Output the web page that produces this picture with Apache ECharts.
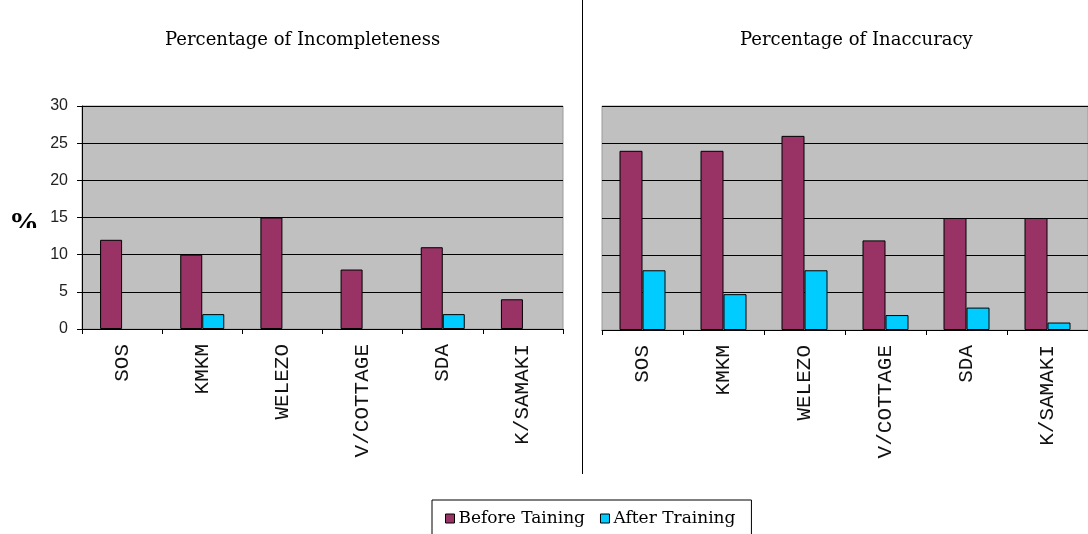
<!DOCTYPE html>
<html>
<head>
<meta charset="utf-8">
<title>Incompleteness and Inaccuracy before and after training</title>
<script src="https://cdn.jsdelivr.net/npm/echarts@6/dist/echarts.min.js"></script>
<style>
  html, body { margin: 0; padding: 0; background: #fff; }
  #chart { width: 1088px; height: 534px; }
</style>
</head>
<body>
<div id="chart"></div>
<script>
// Sites (x-axis categories), shared by both panels
const sites = ['SOS', 'KMKM', 'WELEZO', 'V/COTTAGE', 'SDA', 'K/SAMAKI'];

// Percentage of incompleteness
const incompleteBefore = [12, 10, 15, 8, 11, 4];
const incompleteAfter  = [0, 2, 0, 0, 2, 0];

// Percentage of inaccuracy
const inaccurateBefore = [24, 24, 26, 12, 15, 15];
const inaccurateAfter  = [8, 4.8, 8, 2, 3, 1];

// Value axis ticks
const yMin = 0, yMax = 30, yStep = 5;

const seriesNames = ['Before Taining', 'After Training'];
const panelTitles = ['Percentage of Incompleteness', 'Percentage of Inaccuracy'];

const BEFORE = '#993366';
const AFTER = '#00CCFF';

const chart = echarts.init(document.getElementById('chart'), null, { renderer: 'canvas' });

function xAxisFor(gridIndex) {
  return {
    type: 'category',
    gridIndex: gridIndex,
    data: sites,
    axisLine: { show: true, lineStyle: { color: '#000', width: 1 } },
    axisTick: { show: true, length: 5, lineStyle: { color: '#000' } },
    axisLabel: {
      rotate: 90,
      margin: 15,
      interval: 0,
      fontFamily: 'Liberation Mono',
      fontSize: 21,
      color: '#111'
    }
  };
}

function yAxisFor(gridIndex, withLabels) {
  return {
    type: 'value',
    gridIndex: gridIndex,
    min: yMin,
    max: yMax,
    interval: yStep,
    axisLine: { show: withLabels, lineStyle: { color: '#000', width: 1 } },
    axisTick: { show: withLabels, length: 5, lineStyle: { color: '#000' } },
    axisLabel: {
      show: withLabels,
      margin: 14,
      fontFamily: 'Liberation Sans',
      fontSize: 16,
      color: '#222'
    },
    splitLine: { show: true, lineStyle: { color: '#000', width: 1 } }
  };
}

// zero-height bars carry no outline
function toItems(values) {
  return values.map(v => (v === 0 ? { value: v, itemStyle: { borderWidth: 0 } } : v));
}

function barSeries(name, data, color, idx, width) {
  return {
    name: name,
    type: 'bar',
    xAxisIndex: idx,
    yAxisIndex: idx,
    data: toItems(data),
    barWidth: width,
    barGap: '0%',
    itemStyle: { color: color, borderColor: '#000', borderWidth: 1 },
    emphasis: { disabled: true },
    animation: false
  };
}

const titleStyle = {
  fontFamily: 'DejaVu Serif',
  fontSize: 18,
  fontWeight: 'normal',
  color: '#000'
};

chart.setOption({
  animation: false,
  backgroundColor: '#fff',
  title: [
    { text: panelTitles[0], left: 165, top: 31, padding: 0, textStyle: titleStyle },
    { text: panelTitles[1], left: 740, top: 31, padding: 0, textStyle: titleStyle }
  ],
  legend: {
    data: seriesNames,
    left: 432,
    top: 500,
    orient: 'horizontal',
    icon: 'rect',
    itemWidth: 9,
    itemHeight: 9,
    itemGap: 15,
    padding: [10, 16, 30, 13],
    borderColor: '#000',
    borderWidth: 1,
    backgroundColor: '#fff',
    itemStyle: { borderColor: '#000', borderWidth: 1 },
    textStyle: { fontFamily: 'DejaVu Serif', fontSize: 17, color: '#000', padding: [0, 0, 0, -1] }
  },
  grid: [
    { left: 82, top: 106, width: 481, height: 223, show: true, backgroundColor: '#C0C0C0', borderColor: '#9a9a9a', borderWidth: 1 },
    { left: 602, top: 106, width: 497, height: 224, show: true, backgroundColor: '#C0C0C0', borderColor: '#9a9a9a', borderWidth: 1 }
  ],
  xAxis: [xAxisFor(0), xAxisFor(1)],
  yAxis: [yAxisFor(0, true), yAxisFor(1, false)],
  series: [
    barSeries(seriesNames[0], incompleteBefore, BEFORE, 0, 22),
    barSeries(seriesNames[1], incompleteAfter, AFTER, 0, 22),
    barSeries(seriesNames[0], inaccurateBefore, BEFORE, 1, 23),
    barSeries(seriesNames[1], inaccurateAfter, AFTER, 1, 23)
  ],
  graphic: [
    // divider between the two panels
    { type: 'line', silent: true, shape: { x1: 582.5, y1: 0, x2: 582.5, y2: 474 }, style: { stroke: '#000', lineWidth: 1 } },
    // unit label of the value axis, its lower part cut off
    { type: 'text', silent: true, left: 9, top: 209, z: 10, style: { text: '%', fontFamily: 'Liberation Serif', fontWeight: 'bold', fontSize: 30, fill: '#000' } },
    { type: 'rect', silent: true, z: 11, shape: { x: 4, y: 228, width: 40, height: 24 }, style: { fill: '#fff' } }
  ]
});
</script>
</body>
</html>
